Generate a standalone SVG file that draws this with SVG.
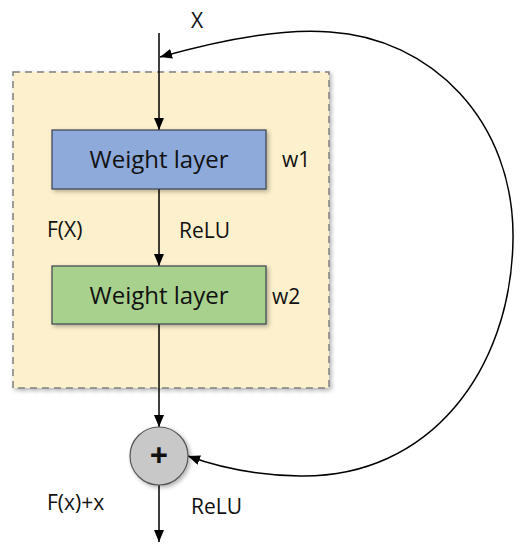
<svg xmlns="http://www.w3.org/2000/svg" width="523" height="550" viewBox="0 0 523 550">
<defs>
<marker id="ah" viewBox="0 0 12 10" refX="12" refY="5" markerWidth="12" markerHeight="10" markerUnits="userSpaceOnUse" orient="auto-start-reverse"><path d="M0,0 L12,5 L0,10 z" fill="#000"/></marker>
<filter id="sh" x="-20%" y="-20%" width="140%" height="140%"><feDropShadow dx="2" dy="2" stdDeviation="2" flood-color="#000" flood-opacity="0.3"/></filter>
</defs>
<style>
text{font-family:"Open Sans","Liberation Sans",sans-serif;fill:#111;}
.lbl{font-size:21px;}
.wl{font-size:24px;}
.box{stroke:#3a4250;stroke-width:1.2;filter:url(#sh);}
.ln{stroke:#000;stroke-width:1.5;fill:none;}
</style>
<rect width="523" height="550" fill="#fff"/>
<g id="frame"><rect x="13" y="72" width="316" height="316" fill="#fdf0cc" stroke="#7f7f7f" stroke-width="1.5" stroke-dasharray="7,5" filter="url(#sh)"/></g>
<g id="connectors">
<line class="ln" x1="159" y1="33" x2="159" y2="130" marker-end="url(#ah)"/>
<line class="ln" x1="159" y1="189" x2="159" y2="266" marker-end="url(#ah)"/>
<line class="ln" x1="159" y1="324" x2="159" y2="427" marker-end="url(#ah)"/>
<line class="ln" x1="159" y1="485" x2="159" y2="542" marker-end="url(#ah)"/>
<path class="ln" d="M160,57 C220,40 280,28 330,32 C430,38 515,120 513,240 C511,370 430,478 300,476 C250,475 215,466 188,456" marker-start="url(#ah)" marker-end="url(#ah)"/>
</g>
<g id="w1"><rect class="box" x="52" y="130" width="214" height="59" fill="#8eaadb"/><text class="wl" x="159" y="168" text-anchor="middle">Weight layer</text></g>
<g id="w2"><rect class="box" x="52" y="266" width="214" height="58" fill="#a9d18e"/><text class="wl" x="159" y="304" text-anchor="middle">Weight layer</text></g>
<g id="add"><circle cx="159" cy="456" r="29" fill="#c8c8c8" stroke="#555" stroke-width="1.2" filter="url(#sh)"/><text x="159" y="467" text-anchor="middle" style="font-size:32px;font-weight:bold">+</text></g>
<g id="labels">
<text class="lbl" x="191" y="28">X</text>
<text class="lbl" x="282" y="167">w1</text>
<text class="lbl" x="47" y="237">F(X)</text>
<text class="lbl" x="179" y="238">ReLU</text>
<text class="lbl" x="272" y="304">w2</text>
<text class="lbl" x="47" y="510">F(x)+x</text>
<text class="lbl" x="191" y="514">ReLU</text>
</g>
</svg>
